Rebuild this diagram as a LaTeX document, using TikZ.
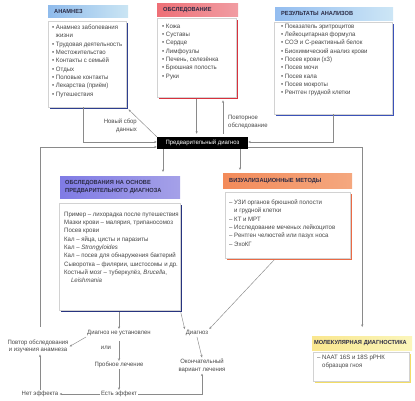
\documentclass[tikz,border=0pt]{standalone}
\usepackage{fontspec}
\setmainfont{Liberation Sans}[FakeStretch=0.96]
\usetikzlibrary{arrows.meta,shadows}

\definecolor{linegray}{HTML}{8A8A8A}
\definecolor{txtgray}{HTML}{474747}
\definecolor{hdrtext}{HTML}{2B2B45}
\definecolor{anamC}{HTML}{9FD0EA}
\definecolor{anamS}{HTML}{2E3F8F}
\definecolor{obsC}{HTML}{EC7C84}
\definecolor{obsS}{HTML}{D8313D}
\definecolor{resC}{HTML}{A4D2EE}
\definecolor{resS}{HTML}{3B52B8}
\definecolor{purpC}{HTML}{8E89E2}
\definecolor{purpS}{HTML}{27337F}
\definecolor{vizC}{HTML}{F2925F}
\definecolor{vizS}{HTML}{EA6A45}
\definecolor{molC}{HTML}{F9F29E}
\definecolor{molS}{HTML}{F2DD66}

\newcommand\boxfont{\fontsize{6.3}{8.35}\selectfont}
\newcommand\hdrfont{\bfseries\fontsize{5.9}{7.4}\selectfont}
\newcommand\flowfont{\fontsize{6.2}{7.7}\selectfont}

\tikzset{
  hdr/.style={anchor=north west, inner xsep=6pt, inner ysep=0pt, align=left,
    font=\hdrfont, text=hdrtext},
  body/.style={anchor=north west, draw=gray!35, line width=0.3pt, fill=white,
    inner sep=0pt, drop shadow={shadow xshift=2pt, shadow yshift=-2pt,
    opacity=1, fill=#1}},
  items/.style={anchor=north west, align=left, font=\boxfont, text=txtgray,
    inner sep=0pt},
  flow/.style={font=\flowfont, text=txtgray, align=center, inner sep=1pt},
  arr/.style={draw=linegray, line width=0.45pt,
    -{Stealth[length=2.6pt, width=2.2pt]}},
}

\begin{document}
\begin{tikzpicture}[x=1pt, y=-1pt]
  \useasboundingbox (0,0) rectangle (415,400);
  % ── верхний ряд ──────────────────────────────────────
  \begin{scope}
    % анамнез
    \node[hdr, text width=68pt, minimum height=12pt,
      left color=anamC!90!blue, right color=anamC!55!white] (anamH) at (48,5) {АНАМНЕЗ};
    \node[body=anamS, minimum width=78pt, minimum height=86pt] (anamB) at (48,21) {};
    \node[items] (anamT) at (52,24.5) {• Анамнез заболевания\\\phantom{• }жизни\\
      • Трудовая деятельность\\• Местожительство\\• Контакты с семьёй\\• Отдых\\
      • Половые контакты\\• Лекарства (приём)\\• Путешествия};
    % обследование
    \node[hdr, text width=69pt, minimum height=13pt,
      left color=obsC!90!red, right color=obsC!75!white] (obsH) at (157,3) {ОБСЛЕДОВАНИЕ};
    \node[body=obsS, minimum width=79pt, minimum height=79pt] (obsB) at (157,18) {};
    \node[items] (obsT) at (162,23.5) {• Кожа\\• Суставы\\• Сердце\\• Лимфоузлы\\
      • Печень, селезёнка\\• Брюшная полость\\• Руки};
    % результаты анализов
    \node[hdr, text width=106pt, minimum height=13pt,
      left color=resC!90!blue, right color=resC!55!white] (resH) at (275,7) {РЕЗУЛЬТАТЫ АНАЛИЗОВ};
    \node[body=resS, minimum width=118pt, minimum height=92pt] (resB) at (274,22) {};
    \node[items] (resT) at (281,23.5) {• Показатель эритроцитов\\• Лейкоцитарная формула\\
      • СОЭ и С-реактивный белок\\• Биохимический анализ крови\\• Посев крови (х3)\\
      • Посев мочи\\• Посев кала\\• Посев мокроты\\• Рентген грудной клетки};
  \end{scope}
  % ── предварительный диагноз ──────────────────────────
  \node[fill=black, text=white, font=\flowfont, minimum width=91pt,
    minimum height=12pt, inner sep=0pt] (prelim) at (202.5,143) {Предварительный диагноз};
  \node[flow, align=right, anchor=east] (newdata) at (138,126) {Новый сбор\\данных};
  \node[flow, align=left, anchor=west] (reexam) at (227,122) {Повторное\\обследование};
  % ── средний ряд ──────────────────────────────────────
  \begin{scope}
    \node[hdr, text width=110pt, minimum height=22pt, inner xsep=5pt,
      left color=purpC!90!blue, right color=purpC!80!white] (purpH) at (60,176)
      {ОБСЛЕДОВАНИЯ НА ОСНОВЕ\\ПРЕДВАРИТЕЛЬНОГО ДИАГНОЗА};
    \node[body=purpS, minimum width=121pt, minimum height=107pt] (purpB) at (59,203) {};
    \node[items] (purpT) at (64,211.5) {Пример – лихорадка после путешествия\\
      Мазки крови – малярия, трипаносомоз\\Посев крови\\Кал – яйца, цисты и паразиты\\
      Кал – \textit{Strongyloides}\\Кал – посев для обнаружения бактерий\\
      Сыворотка – филярии, шистосомы и др.\\Костный мозг – туберкулёз, \textit{Brucella},\\
      \phantom{Ко}\textit{Leishmania}};
    \node[hdr, text width=117pt, minimum height=15pt,
      left color=vizC!95!red, right color=vizC!80!white] (vizH) at (223,173) {ВИЗУАЛИЗАЦИОННЫЕ МЕТОДЫ};
    \node[body=vizS, minimum width=125pt, minimum height=66pt] (vizB) at (225,192) {};
    \node[items] (vizT) at (229,199.5) {– УЗИ органов брюшной полости\\\phantom{– }и грудной клетки\\
      – КТ и МРТ\\– Исследование меченых лейкоцитов\\– Рентген челюстей или пазух носа\\– ЭхоКГ};
  \end{scope}
  % ── молекулярная диагностика ─────────────────────────
  \node[hdr, text width=96pt, minimum height=14pt, inner xsep=2pt,
    left color=molC!90!orange, right color=molC!70!white] (molH) at (312,336)
    {\mbox{МОЛЕКУЛЯРНАЯ ДИАГНОСТИКА}};
  \node[body=molS, minimum width=96pt, minimum height=29pt] (molB) at (313,352) {};
  \node[items] (molT) at (317,354.5) {– NAAT 16S и 18S рРНК\\\phantom{– }образцов гноя};
  % ── нижняя схема ─────────────────────────────────────
  \node[flow] (notset) at (119,333) {Диагноз не установлен};
  \node[flow] (redo) at (38,346.5) {Повтор обследования\\и изучения анамнеза};
  \node[flow] (ili) at (106,348) {или};
  \node[flow] (trial) at (119,365) {Пробное лечение};
  \node[flow] (effect) at (119,394) {Есть эффект};
  \node[flow] (noeff) at (40,394) {Нет эффекта};
  \node[flow] (diag) at (197,333) {Диагноз};
  \node[flow] (final) at (202,365.5) {Окончательный\\вариант лечения};
  % стрелки
  \draw[arr] ([xshift=-3.5pt]anamB.south) |- ([yshift=1pt]prelim.west);
  \draw[arr] (resB.south) |- ([yshift=1pt]prelim.east);
  \draw[arr, shorten <=12pt] ([xshift=2pt]redo.north) |- ([yshift=-4pt]prelim.west);
  \draw[arr, shorten >=9pt] ([yshift=-4pt]prelim.east) -| (molH.north);
  \draw[arr, shorten <=2pt, shorten >=3pt] (obsB.south) -- (obsB.south |- prelim.north);
  \draw[arr, shorten <=3pt, shorten >=3pt] ([xshift=20.5pt]prelim.north)
    -- ([xshift=20.5pt]prelim.north |- obsB.south);
  \draw[arr, shorten >=3pt] (prelim.north west) -- (anamB.south east);
  \draw[arr, shorten >=4pt] ([xshift=-39.5pt]prelim.south) -- ([xshift=-39.5pt]prelim.south |- purpH.north);
  \draw[arr, shorten >=3pt] ([xshift=37.5pt]prelim.south) -- ([xshift=37.5pt]prelim.south |- vizH.north);
  \draw[arr, shorten <=2pt] (notset |- purpB.south) -- (notset.north);
  \draw[arr, shorten <=2pt] (purpB.south east) -- (diag.north west);
  \draw[arr, shorten <=2pt] ([xshift=-12pt]vizB.south) -- (diag.north east);
  \draw[arr] (notset.south west) -- (redo.east);
  \draw[arr, shorten <=4pt] (notset.south) -- (trial.north);
  \draw[arr] (trial.south) -- (effect.north);
  \draw[arr] (effect.west) -- (noeff.east);
  \draw[arr] (noeff.north) -- (noeff.north |- redo.south);
  \draw[arr] (effect.east) -| (final.south);
  \draw[arr] (diag.south) -- (final.north);
\end{tikzpicture}
\end{document}
